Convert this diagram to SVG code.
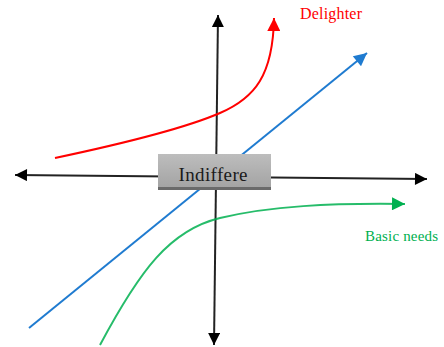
<svg xmlns="http://www.w3.org/2000/svg" width="444" height="347" viewBox="0 0 444 347">
<style>
.axis{stroke:#222;stroke-width:2;fill:none}
.curve{fill:none;stroke-width:2}
.lbl{font-family:"Liberation Serif",serif}
</style>
<defs>
<marker id="ak" viewBox="0 0 10 10" refX="10" refY="5" markerWidth="7" markerHeight="6" orient="auto-start-reverse" markerUnits="strokeWidth"><path d="M0,0 L10,5 L0,10 Z" fill="#000"/></marker>
<marker id="ar" viewBox="0 0 10 10" refX="10" refY="5" markerWidth="7.5" markerHeight="6.5" orient="auto" markerUnits="strokeWidth"><path d="M0,0 L10,5 L0,10 Z" fill="#ff0000"/></marker>
<marker id="ab" viewBox="0 0 10 10" refX="10" refY="5" markerWidth="7" markerHeight="6.5" orient="auto" markerUnits="strokeWidth"><path d="M0,0 L10,5 L0,10 Z" fill="#1f7bd0"/></marker>
<marker id="ag" viewBox="0 0 10 10" refX="10" refY="5" markerWidth="7" markerHeight="6.5" orient="auto" markerUnits="strokeWidth"><path d="M0,0 L10,5 L0,10 Z" fill="#00b050"/></marker>
<linearGradient id="bg" x1="0" y1="0" x2="0" y2="1"><stop offset="0" stop-color="#bdbdbd"/><stop offset="1" stop-color="#a4a4a4"/></linearGradient>
</defs>
<g id="connectors">
<path class="axis" d="M15,175 L427,179" marker-start="url(#ak)" marker-end="url(#ak)"/>
<path class="axis" d="M218,15 L214,345" marker-start="url(#ak)" marker-end="url(#ak)"/>
<path class="curve" stroke="#1f7bd0" d="M29,328 L367,53" marker-end="url(#ab)"/>
<path class="curve" stroke="#ff0000" d="M55,158 C140,140 190,126 220,113 C255,98 273,75 274,18" marker-end="url(#ar)"/>
<path class="curve" stroke="#00b050" stroke-opacity="0.85" d="M100,345 C140,270 170,230 220,218 C270,206 330,203 405,204" marker-end="url(#ag)"/>
</g>
<g id="indifferent">
<rect x="158" y="154" width="113" height="36" fill="#6a6a6a"/>
<rect x="158" y="154" width="113" height="33" fill="url(#bg)"/>
<text class="lbl" x="213" y="181" font-size="19" text-anchor="middle" textLength="69" fill="#1a1a1a">Indiffere</text>
</g>
<g id="delighter">
<text class="lbl" x="300" y="19" font-size="16" textLength="62" fill="#ff0000">Delighter</text>
</g>
<g id="basic">
<text class="lbl" x="365" y="241" font-size="15" textLength="73" fill="#00b050">Basic needs</text>
</g>
</svg>
